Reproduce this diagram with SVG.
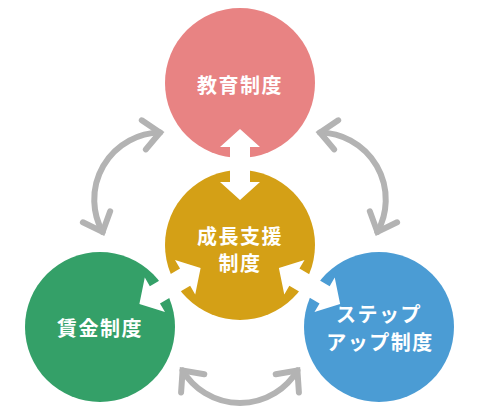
<svg xmlns="http://www.w3.org/2000/svg" width="480" height="420" viewBox="0 0 480 420">
  <defs>
    <style>
      .lbl { font-family: "Noto Sans CJK JP", "Noto Sans", sans-serif; font-weight: bold; font-size: 20px; fill: #ffffff; text-anchor: middle; dominant-baseline: central; letter-spacing: 1.5px; }
      .curve { fill: none; stroke: #b3b3b3; stroke-width: 6; stroke-linecap: round; stroke-linejoin: miter; }
      .dbl { fill: #ffffff; }
    </style>
    <path id="dblArrow" d="M-35.5,0 L-17.5,-20 L-17.5,-10 L17.5,-10 L17.5,-20 L35.5,0 L17.5,20 L17.5,10 L-17.5,10 L-17.5,20 Z"/>
    <g id="curveArrow">
      <path d="M182.6,370.5 A67,67 0 0 0 297.4,370.5"/>
      <polyline points="204.3,374.3 182.6,370.5 181.1,392.4"/>
      <polyline points="275.7,374.3 297.4,370.5 298.9,392.4"/>
    </g>
  </defs>

  <g id="node-kyoiku">
    <circle cx="240" cy="83" r="75" fill="#e88383"/>
    <text class="lbl" x="240" y="84">教育制度</text>
  </g>
  <g id="node-seicho">
    <circle cx="240" cy="245" r="75" fill="#d4a016"/>
    <text class="lbl" x="240" y="235">成長支援</text>
    <text class="lbl" x="240" y="262">制度</text>
  </g>
  <g id="node-chingin">
    <circle cx="100" cy="327" r="75" fill="#34a068"/>
    <text class="lbl" x="100" y="327">賃金制度</text>
  </g>
  <g id="node-stepup">
    <circle cx="379" cy="327" r="75" fill="#4b9cd4"/>
    <text class="lbl" x="379" y="313">ステップ</text>
    <text class="lbl" x="380" y="341">アップ制度</text>
  </g>

  <g id="connectors">
    <use href="#dblArrow" class="dbl" transform="translate(240,164.5) rotate(90)"/>
    <use href="#dblArrow" class="dbl" transform="translate(170,286) rotate(-30.4)"/>
    <use href="#dblArrow" class="dbl" transform="translate(309.5,286) rotate(30.4)"/>
    <use href="#curveArrow" class="curve"/>
    <use href="#curveArrow" class="curve" transform="rotate(120,240,245)"/>
    <use href="#curveArrow" class="curve" transform="rotate(-120,240,245)"/>
  </g>
</svg>
